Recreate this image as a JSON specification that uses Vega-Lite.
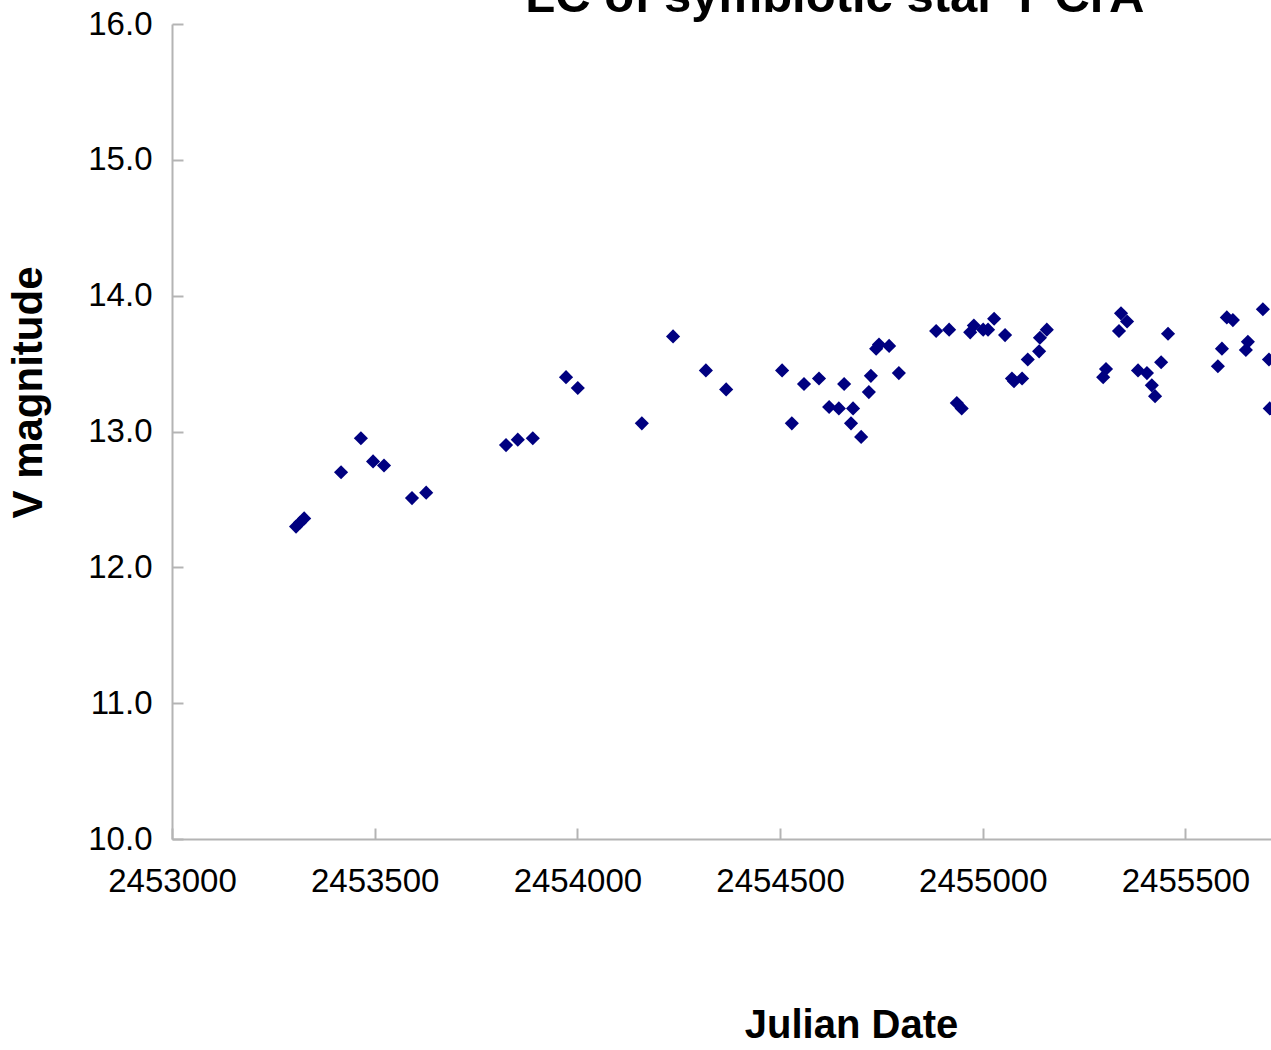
{
  "$schema": "https://vega.github.io/schema/vega-lite/v6.json",
  "autosize": "none",
  "width": 1099,
  "height": 815,
  "padding": {"left": 172, "top": 24, "right": 0, "bottom": 211},
  "background": "white",
  "layer": [
    {
      "data": {
        "values": [
          {"jd": 2453306, "v": 12.30}, {"jd": 2453316, "v": 12.33}, {"jd": 2453326, "v": 12.36},
          {"jd": 2453417, "v": 12.70}, {"jd": 2453466, "v": 12.95}, {"jd": 2453496, "v": 12.78},
          {"jd": 2453523, "v": 12.75}, {"jd": 2453592, "v": 12.51}, {"jd": 2453627, "v": 12.55},
          {"jd": 2453824, "v": 12.90}, {"jd": 2453853, "v": 12.94}, {"jd": 2453890, "v": 12.95},
          {"jd": 2453972, "v": 13.40}, {"jd": 2454001, "v": 13.32}, {"jd": 2454159, "v": 13.06},
          {"jd": 2454236, "v": 13.70}, {"jd": 2454317, "v": 13.45}, {"jd": 2454367, "v": 13.31},
          {"jd": 2454505, "v": 13.45}, {"jd": 2454529, "v": 13.06}, {"jd": 2454559, "v": 13.35},
          {"jd": 2454596, "v": 13.39}, {"jd": 2454621, "v": 13.18}, {"jd": 2454645, "v": 13.17},
          {"jd": 2454658, "v": 13.35}, {"jd": 2454680, "v": 13.17}, {"jd": 2454675, "v": 13.06},
          {"jd": 2454700, "v": 12.96}, {"jd": 2454719, "v": 13.29}, {"jd": 2454724, "v": 13.41},
          {"jd": 2454737, "v": 13.61}, {"jd": 2454744, "v": 13.64}, {"jd": 2454769, "v": 13.63},
          {"jd": 2454793, "v": 13.43}, {"jd": 2454885, "v": 13.74}, {"jd": 2454917, "v": 13.75},
          {"jd": 2454936, "v": 13.21}, {"jd": 2454948, "v": 13.17}, {"jd": 2454969, "v": 13.73},
          {"jd": 2454978, "v": 13.78}, {"jd": 2455001, "v": 13.75}, {"jd": 2455013, "v": 13.75},
          {"jd": 2455028, "v": 13.83}, {"jd": 2455055, "v": 13.71}, {"jd": 2455072, "v": 13.39},
          {"jd": 2455077, "v": 13.37}, {"jd": 2455097, "v": 13.39}, {"jd": 2455111, "v": 13.53},
          {"jd": 2455139, "v": 13.59}, {"jd": 2455141, "v": 13.69}, {"jd": 2455158, "v": 13.75},
          {"jd": 2455297, "v": 13.40}, {"jd": 2455304, "v": 13.46}, {"jd": 2455336, "v": 13.74},
          {"jd": 2455341, "v": 13.87}, {"jd": 2455356, "v": 13.81}, {"jd": 2455383, "v": 13.45},
          {"jd": 2455405, "v": 13.43}, {"jd": 2455417, "v": 13.34}, {"jd": 2455425, "v": 13.26},
          {"jd": 2455440, "v": 13.51}, {"jd": 2455457, "v": 13.72}, {"jd": 2455580, "v": 13.48},
          {"jd": 2455590, "v": 13.61}, {"jd": 2455602, "v": 13.84}, {"jd": 2455617, "v": 13.82},
          {"jd": 2455649, "v": 13.60}, {"jd": 2455654, "v": 13.66}, {"jd": 2455691, "v": 13.90},
          {"jd": 2455706, "v": 13.53}, {"jd": 2455708, "v": 13.17}
        ]
      },
      "mark": {"type": "point", "shape": "diamond", "filled": true, "color": "#000080", "opacity": 1, "size": 200, "clip": true},
      "encoding": {
        "x": {
          "field": "jd", "type": "quantitative",
          "scale": {"domain": [2453000, 2455711], "nice": false, "zero": false},
          "axis": {
            "title": "Julian Date",
            "values": [2453000, 2453500, 2454000, 2454500, 2455000, 2455500],
            "format": "d",
            "grid": false,
            "domainColor": "#b4b4b4", "domainWidth": 2,
            "tickColor": "#b4b4b4", "tickWidth": 2, "tickSize": -11,
            "labelFont": "Liberation Sans", "labelFontSize": 33, "labelColor": "black",
            "labelPadding": 37, "labelBaseline": "top",
            "labelOverlap": false, "labelBound": false, "labelFlush": false,
            "titleFont": "Liberation Sans", "titleFontSize": 40, "titleFontWeight": "bold", "titleColor": "black",
            "titleX": 679, "titleY": 198, "titleBaseline": "alphabetic", "titleAlign": "center"
          }
        },
        "y": {
          "field": "v", "type": "quantitative",
          "scale": {"domain": [10, 16], "nice": false, "zero": false},
          "axis": {
            "title": "V magnitude",
            "values": [10, 11, 12, 13, 14, 15, 16],
            "format": ".1f",
            "grid": false,
            "domainColor": "#b4b4b4", "domainWidth": 2,
            "tickColor": "#b4b4b4", "tickWidth": 2, "tickSize": -11,
            "labelFont": "Liberation Sans", "labelFontSize": 33, "labelColor": "black",
            "labelPadding": 31,
            "labelOverlap": false, "labelBound": false, "labelFlush": false,
            "titleFont": "Liberation Sans", "titleFontSize": 42, "titleFontWeight": "bold", "titleColor": "black",
            "titleAngle": -90, "titleX": -131, "titleY": 368, "titleBaseline": "alphabetic", "titleAlign": "center"
          }
        }
      }
    },
    {
      "data": {"values": [{"title": "LC of symbiotic star Y CrA"}]},
      "mark": {"type": "text", "font": "Liberation Sans", "fontSize": 49, "fontWeight": "bold", "color": "black", "align": "center", "baseline": "alphabetic", "clip": false},
      "encoding": {
        "x": {"datum": 2454635, "type": "quantitative"},
        "y": {"datum": 16.09, "type": "quantitative"},
        "text": {"field": "title", "type": "nominal"}
      }
    }
  ],
  "config": {"view": {"stroke": null}}
}
